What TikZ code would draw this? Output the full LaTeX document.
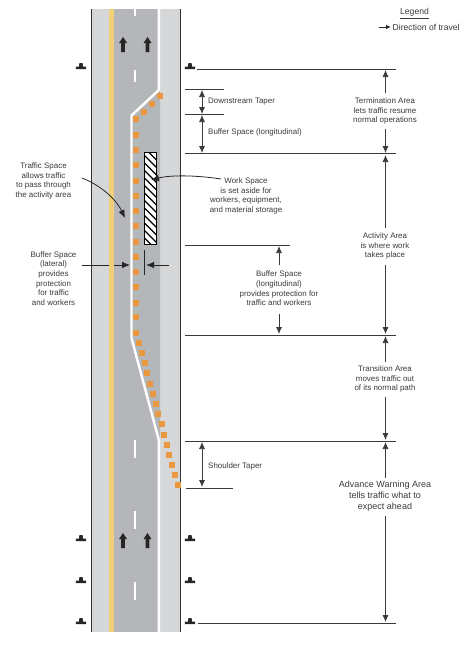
\documentclass[tikz,border=0pt]{standalone}
\usepackage{fontspec}
\setmainfont{Liberation Sans}
\usetikzlibrary{arrows.meta,patterns}
\definecolor{shoulder}{HTML}{D5D7D9}
\definecolor{lane}{HTML}{B4B6B9}
\definecolor{closed}{HTML}{B4B7BA}
\definecolor{yel}{HTML}{EFCF78}
\definecolor{org}{HTML}{E8983F}
\definecolor{ink}{HTML}{3A3A3C}
\tikzset{
  lbl/.style={text=ink,font=\fontsize{7.95}{9.6}\selectfont,inner sep=0pt,align=center},
  lblL/.style={lbl,anchor=west,align=left},
  lblB/.style={text=ink,font=\fontsize{9.0}{11}\selectfont,inner sep=0pt,align=center},
  lblG/.style={text=ink,font=\fontsize{8.6}{10}\selectfont,inner sep=0pt},
  ruleln/.style={draw=ink,line width=.8pt},
  dim/.style={draw=ink,line width=.75pt,-{Latex[length=7pt,width=6pt]}},
  dimb/.style={draw=ink,line width=.75pt,{Latex[length=7pt,width=6pt]}-{Latex[length=7pt,width=6pt]}},
  ptr/.style={draw=black!85,line width=.8pt,-{Latex[length=8pt,width=6.5pt]}},
  dot/.style={fill=org,draw=none,minimum size=5.2pt,inner sep=0pt,rectangle}
}
\newcommand{\lanedash}[2]{\fill[white] (134.2,#1) rectangle (136,#2);}
\newcommand{\travelarrow}[2]{\fill[black!85] (#1-1.8,#2+15) -- (#1-1.8,#2+6) -- (#1-4,#2+6) -- (#1,#2) -- (#1+4,#2+6) -- (#1+1.8,#2+6) -- (#1+1.8,#2+15) -- cycle;}
\newcommand{\signpost}[2]{\fill[black!85] (#1-5.2,#2+0.5) -- (#1-5.2,#2+3.2) -- (#1+5.2,#2+3.2) -- (#1+5.2,#2+0.5) -- (#1+2,#2+0.5) -- (#1+1.6,#2-3) -- (#1-1.6,#2-3) -- (#1-2,#2+0.5) -- cycle;}
\begin{document}
\begin{tikzpicture}[x=1pt,y=-1pt]
\useasboundingbox (0,0) rectangle (474,645);
\fill[white] (0,0) rectangle (474,645);
% road
\fill[shoulder] (91,9) rectangle (181,632);
\fill[lane] (113,9) rectangle (158,632);
\fill[closed] (131,90) -- (160,90) -- (160,440) -- (131,338) -- cycle;
\fill[yel] (109,9) rectangle (113.5,632);
\draw[black!80,line width=.8pt] (91.5,9) -- (91.5,632) (180.7,9) -- (180.7,632);
% white edge line
\draw[white,line width=2.4pt,line join=miter] (158.8,9) -- (158.8,90) -- (131.5,115.5) -- (131.5,338) -- (158.8,440) -- (158.8,632);
% lane dashes
\lanedash{9}{16}\lanedash{70}{82}\lanedash{440}{458}\lanedash{511}{529}\lanedash{582}{600}
% direction arrows
\travelarrow{123}{37}\travelarrow{147.5}{37}\travelarrow{123}{533}\travelarrow{147.5}{533}
% signs
\signpost{81}{66}\signpost{190}{66}
\signpost{81}{538}\signpost{190}{538}
\signpost{81}{580}\signpost{190}{580}
\signpost{81}{621}\signpost{190}{621}
% work space
\fill[white] (144,152) rectangle (156.5,244);
\begin{scope}
\clip (144,152) rectangle (156.5,244);
\foreach \y in {140,147.5,...,250} \draw[black,line width=1.3pt] (144,\y) -- (157,\y+13);
\end{scope}
\draw[black,line width=.9pt] (144,152) rectangle (156.5,244);
% cones
\foreach \x/\y in {160/96,152/104,144/112,136/119,136/135,136/150,136/165,136/181,136/196,136/211,136/226,136/242,136/257,136/272,136/287,136/303,136/317,136/333,139/343,142/353,145/363,147/373,150/384,153/394,156/404,158/414,162/424,164/435,167/445,169/455,172/465,175/475,178/485}
  \node[dot] at (\x,\y) {};
% horizontal rules
\draw[ruleln] (197,69) -- (396,69);
\draw[ruleln] (185,89.5) -- (224,89.5);
\draw[ruleln] (185,114.5) -- (224,114.5);
\draw[ruleln] (185,153.8) -- (396,153.8);
\draw[ruleln] (185,245) -- (290,245);
\draw[ruleln] (185,335) -- (396,335);
\draw[ruleln] (185,441) -- (396,441);
\draw[ruleln] (186,488) -- (233,488);
\draw[ruleln] (198,623) -- (396,623);
% dimension arrows
\draw[dimb] (202,90) -- (202,114);
\draw[dimb] (202,115) -- (202,153);
\draw[dimb] (202,442) -- (202,487);
\draw[dim] (385.5,93) -- (385.5,70);
\draw[dim] (385.5,129) -- (385.5,153);
\draw[dim] (385.5,228) -- (385.5,155);
\draw[dim] (385.5,265) -- (385.5,334);
\draw[dim] (385.5,362) -- (385.5,336);
\draw[dim] (385.5,397) -- (385.5,440);
\draw[dim] (385.5,478) -- (385.5,442);
\draw[dim] (385.5,516) -- (385.5,622);
\draw[dim] (279,265) -- (279,246);
\draw[dim] (279,314) -- (279,334);
% pointers
\draw[ptr] (82,178) .. controls (105,187) and (118,203) .. (125,218);
\draw[ptr] (221,179) .. controls (195,175) and (170,175) .. (151,180);
\draw[draw=black!85,line width=.75pt] (82,265) -- (109,265);
\draw[ptr] (113.5,265) -- (130,265);
\draw[ptr] (169,265) -- (146,265);
\draw[draw=black!85,line width=.9pt] (144,250) -- (144,275);
% legend
\node[lblG] (legend) at (414.5,12) {Legend};
\draw[ink,line width=.5pt] (400,18) -- (429,18);
\node[lblG,anchor=west] (legendtext) at (392.5,27) {Direction of travel};
\draw[black!85,line width=1pt,-{Latex[length=5pt,width=4.5pt]}] (379,27) -- (391,27);
% labels
\node[lblL] (dt) at (208,101.5) {Downstream Taper};
\node[lblL] (bs) at (208,132) {Buffer Space (longitudinal)};
\node[lblL] (st) at (208,466) {Shoulder Taper};
\node[lbl] (term) at (385,111) {Termination Area\\lets traffic resume\\normal operations};
\node[lbl] (act) at (385,246) {Activity Area\\is where work\\takes place};
\node[lbl] (trans) at (385,379) {Transition Area\\moves traffic out\\of its normal path};
\node[lblB] (adv) at (385,496) {Advance Warning Area\\tells traffic what to\\expect ahead};
\node[lbl] (blong) at (279,288.5) {Buffer Space\\(longitudinal)\\provides protection for\\traffic and workers};
\node[lbl] (ws) at (246,196) {Work Space\\is set aside for\\workers, equipment,\\and material storage};
\node[lbl] (ts) at (43.5,181) {Traffic Space\\allows traffic\\to pass through\\the activity area};
\node[lbl] (blat) at (53.5,278.5) {Buffer Space\\(lateral)\\provides\\protection\\for traffic\\and workers};
\end{tikzpicture}
\end{document}
